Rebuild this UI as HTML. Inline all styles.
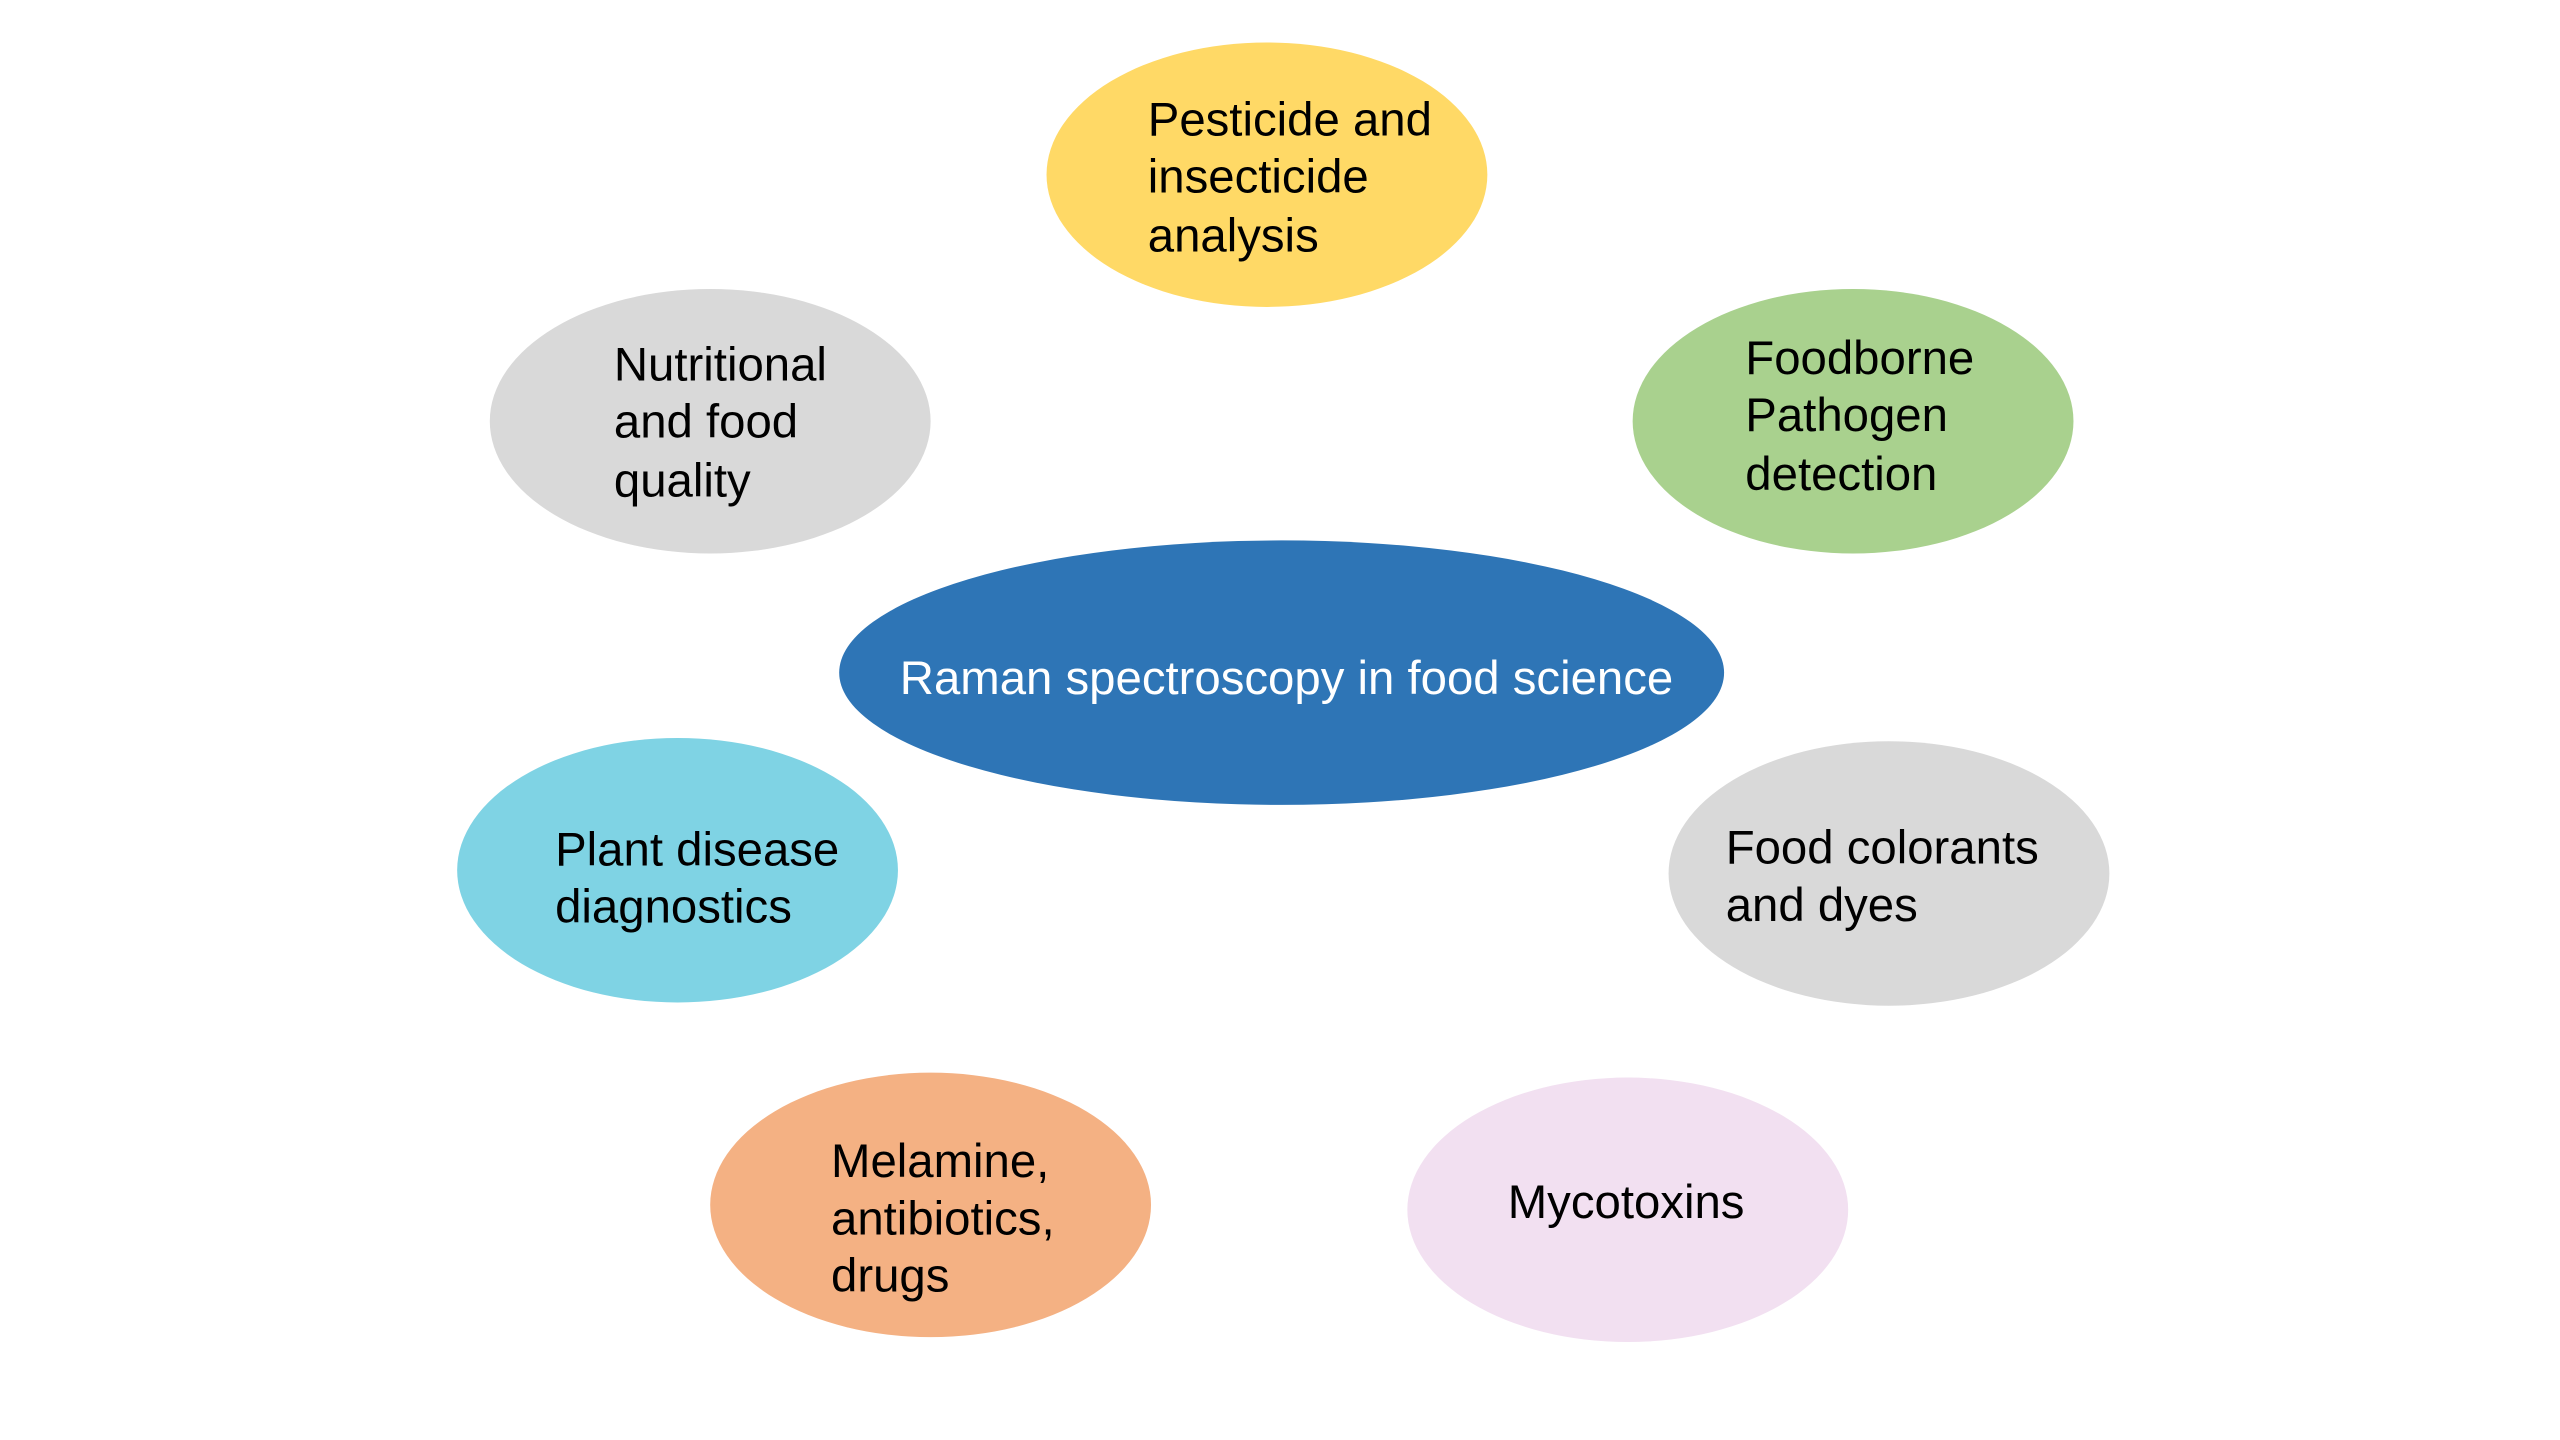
<!DOCTYPE html>
<html><head><meta charset="utf-8"><style>
html,body{margin:0;padding:0;background:#fff;}
svg{display:block;}
text{font-family:"Liberation Sans",Arial,sans-serif;font-size:29px;fill:#000;}
</style></head><body>
<svg width="2560" height="1440" viewBox="0 0 1568 882" preserveAspectRatio="none" xmlns="http://www.w3.org/2000/svg">
<rect width="1568" height="882" fill="#fff"/>
<ellipse cx="776" cy="107" rx="135" ry="81" fill="#FFD966"/>
<ellipse cx="435" cy="258" rx="135" ry="81" fill="#D9D9D9"/>
<ellipse cx="1135" cy="258" rx="135" ry="81" fill="#A9D18E"/>
<ellipse cx="785" cy="412" rx="271" ry="81" fill="#2E75B6"/>
<ellipse cx="415" cy="533" rx="135" ry="81" fill="#7FD3E4"/>
<ellipse cx="1157" cy="535" rx="135" ry="81" fill="#D9D9D9"/>
<ellipse cx="570" cy="738" rx="135" ry="81" fill="#F4B183"/>
<ellipse cx="997" cy="741" rx="135" ry="81" fill="#F2E0F1"/>

<text x="703" y="83">Pesticide and</text>
<text x="703" y="118">insecticide</text>
<text x="703" y="154">analysis</text>

<text x="376" y="233">Nutritional</text>
<text x="376" y="268">and food</text>
<text x="376" y="304">quality</text>

<text x="1069" y="229">Foodborne</text>
<text x="1069" y="264">Pathogen</text>
<text x="1069" y="300">detection</text>

<text x="788" y="425" text-anchor="middle" style="fill:#fff">Raman spectroscopy in food science</text>

<text x="340" y="530">Plant disease</text>
<text x="340" y="565">diagnostics</text>

<text x="1057" y="529">Food colorants</text>
<text x="1057" y="564">and dyes</text>

<text x="509" y="721">Melamine,</text>
<text x="509" y="756">antibiotics,</text>
<text x="509" y="791">drugs</text>

<text x="996" y="746" text-anchor="middle">Mycotoxins</text>
</svg>
</body></html>
